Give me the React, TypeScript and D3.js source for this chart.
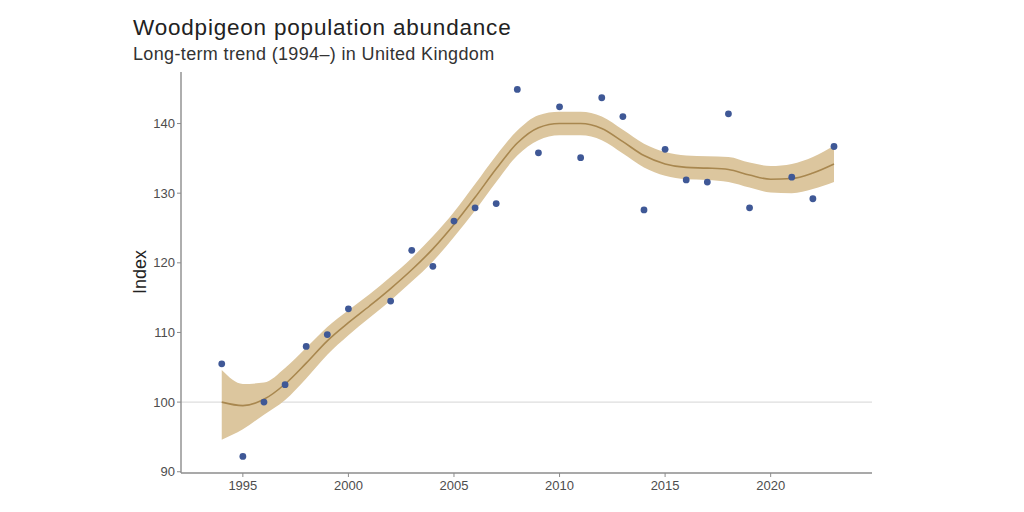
import * as d3 from "d3";

const W = 1024, H = 512;

// BBS index points (no survey in 2001 and 2020)
const pointYears = [1994, 1995, 1996, 1997, 1998, 1999, 2000, 2002, 2003, 2004, 2005, 2006, 2007, 2008, 2009, 2010, 2011, 2012, 2013, 2014, 2015, 2016, 2017, 2018, 2019, 2021, 2022, 2023];
const pointValues = [105.5, 92.2, 100.0, 102.5, 108.0, 109.7, 113.4, 114.5, 121.8, 119.5, 126.0, 127.9, 128.5, 144.9, 135.8, 142.4, 135.1, 143.7, 141.0, 127.6, 136.3, 131.9, 131.6, 141.4, 127.9, 132.3, 129.2, 136.7];

// smoothed trend with its confidence band
const trendYears = d3.range(1994, 2024);
const trendValues = [100.0, 99.5, 100.4, 102.6, 105.6, 108.8, 111.4, 113.8, 116.3, 119.0, 122.0, 125.5, 129.4, 133.5, 137.2, 139.4, 140.0, 140.0, 139.3, 137.4, 135.4, 134.2, 133.7, 133.6, 133.4, 132.6, 132.0, 132.1, 132.9, 134.2];
const trendUpper = [104.6, 102.6, 102.8, 104.9, 107.8, 110.8, 113.2, 115.5, 118.0, 120.7, 123.8, 127.3, 131.3, 135.4, 139.0, 141.2, 141.7, 141.7, 141.0, 139.1, 137.1, 135.9, 135.4, 135.3, 135.2, 134.4, 133.9, 134.2, 135.2, 136.8];
const trendLower = [94.6, 96.1, 98.2, 100.3, 103.4, 106.8, 109.6, 112.1, 114.6, 117.3, 120.2, 123.7, 127.5, 131.6, 135.4, 137.6, 138.3, 138.3, 137.6, 135.7, 133.7, 132.5, 132.0, 131.9, 131.6, 130.8, 130.1, 130.0, 130.6, 131.6];

const xTicks = [1995, 2000, 2005, 2010, 2015, 2020];
const yTicks = [90, 100, 110, 120, 130, 140];

const FONT = "'Liberation Sans', Arial, Helvetica, sans-serif";

export default function App() {
  const left = 181, right = 872, top = 72, bottom = 473;

  const x = d3.scaleLinear().domain([1992.07, 2024.8]).range([left, right]);
  const y = d3.scaleLinear().domain([89.82, 147.4]).range([bottom, top]);

  const band = d3.area<number>()
    .x((d) => x(trendYears[d]))
    .y0((d) => y(trendLower[d]))
    .y1((d) => y(trendUpper[d]))
    .curve(d3.curveMonotoneX);

  const line = d3.line<number>()
    .x((d) => x(trendYears[d]))
    .y((d) => y(trendValues[d]))
    .curve(d3.curveMonotoneX);

  const idx = trendYears.map((_, i) => i);

  return (
    <svg width={W} height={H} style={{ position: "absolute", left: 0, top: 0, background: "#fff" }} fontFamily={FONT}>
      <text x={133} y={35} fontSize={22.5} letterSpacing={0.8} fill="#222">Woodpigeon population abundance</text>
      <text x={133} y={60} fontSize={18} letterSpacing={0.35} fill="#333">Long-term trend (1994–) in United Kingdom</text>

      {/* reference line at 100 */}
      <line x1={left} x2={right} y1={y(100)} y2={y(100)} stroke="#dedede" strokeWidth={1.2} />

      <path d={band(idx) ?? ""} fill="#dcc69e" />
      <path d={line(idx) ?? ""} fill="none" stroke="#a8874f" strokeWidth={1.6} />

      {pointYears.map((yr, i) => (
        <circle key={yr} cx={x(yr)} cy={y(pointValues[i])} r={3.4} fill="#3f5896" />
      ))}

      {/* axes */}
      <line x1={left} x2={left} y1={top} y2={bottom} stroke="#8c8c8c" strokeWidth={1.4} />
      <line x1={left} x2={right} y1={bottom} y2={bottom} stroke="#8c8c8c" strokeWidth={1.4} />

      {yTicks.map((t) => (
        <g key={t}>
          <line x1={left - 4} x2={left} y1={y(t)} y2={y(t)} stroke="#8c8c8c" strokeWidth={1} />
          <text x={left - 6} y={y(t)} dy="0.35em" textAnchor="end" fontSize={13} fill="#4d4d4d">{t}</text>
        </g>
      ))}
      {xTicks.map((t) => (
        <g key={t}>
          <line x1={x(t)} x2={x(t)} y1={bottom} y2={bottom + 4} stroke="#8c8c8c" strokeWidth={1} />
          <text x={x(t)} y={bottom + 17} textAnchor="middle" fontSize={13} fill="#4d4d4d">{t}</text>
        </g>
      ))}

      <text transform={`translate(146,272) rotate(-90)`} textAnchor="middle" fontSize={18} fill="#222">Index</text>
    </svg>
  );
}
